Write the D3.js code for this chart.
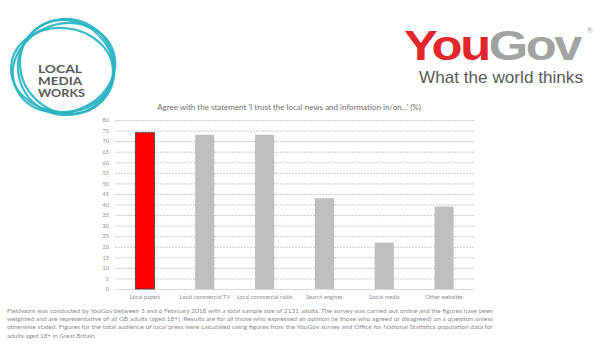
<!DOCTYPE html>
<html><head><meta charset="utf-8">
<script src="https://cdn.jsdelivr.net/npm/d3@7"></script>
<style>body{margin:0;background:#fff;}svg{display:block;font-family:Lato,"Open Sans",sans-serif;}</style>
</head><body><svg id="c" width="600" height="355"></svg>
<script>
const categories = ["Local papers","Local commercial TV","Local commercial radio","Search engines","Social media","Other websites"];
const values = [74, 73, 73, 43, 22, 39];
const yTicks = [0,5,10,15,20,25,30,35,40,45,50,55,60,65,70,75,80];
const title = "Agree with the statement 'I trust the local news and information in/on...'  (%)";
const footnote = [
 "Fieldwork was conducted by YouGov between 5 and 6 February 2018 with a total sample size of 2131 adults. The survey was carried out online and the figures have been",
 "weighted and are representative of all GB adults (aged 18+). Results are for all those who expressed an opinion (ie those who agreed or disagreed) on a question unless",
 "otherwise stated.  Figures for the total audience of local press were calculated using figures from the YouGov survey and Office for National Statistics population data for",
 "adults aged 18+ in Great Britain."
];

const svg = d3.select("#c");
const x = d3.scaleBand().domain(categories).range([115,474]).paddingInner(0.68).paddingOuter(0.34);
const y = d3.scaleLinear().domain([0,80]).range([289,120]);

// gridlines
const gy = svg.append("g").attr("transform","translate(115,0)")
  .call(d3.axisLeft(y).tickValues(yTicks).tickSize(-359).tickPadding(6));
gy.select(".domain").remove();
gy.selectAll(".tick line").attr("stroke","#a6a6a6").attr("stroke-dasharray","2,1").attr("stroke-width",0.6)
  .filter(d=>d===0).attr("stroke","#d9d9d9").attr("stroke-dasharray",null).attr("stroke-width",1);
gy.selectAll(".tick text").attr("fill","#8c8c8c").style("font-size","5.5px").style("font-family","Lato,sans-serif");

// bars
svg.append("g").selectAll("rect").data(categories).join("rect")
  .attr("x",d=>x(d)).attr("width",x.bandwidth())
  .attr("y",(d,i)=>y(values[i])).attr("height",(d,i)=>y(0)-y(values[i]))
  .attr("fill",(d,i)=>i===0?"#ff0000":"#bfbfbf")
  .attr("stroke",(d,i)=>i===0?"#404040":"none").attr("stroke-width",0.8);

// x labels
const gx = svg.append("g").attr("transform","translate(0,289)").call(d3.axisBottom(x).tickSize(0).tickPadding(6));
gx.select(".domain").remove();
gx.selectAll(".tick text").attr("fill","#8c8c8c").style("font-size","5.6px").style("font-family","Lato,sans-serif");

// title
svg.append("text").attr("x",289).attr("y",110).attr("text-anchor","middle")
  .attr("fill","#707070").style("font-size","8px").text(title);

// footnote
svg.append("g").selectAll("text").data(footnote).join("text")
  .attr("x",7).attr("y",(d,i)=>313+i*8.2).attr("fill","#8c8c8c").style("font-size","6.3px")
  .attr("textLength",(d,i)=>i===3?null:486).attr("lengthAdjust","spacingAndGlyphs")
  .text(d=>d);

// Local Media Works logo
const lg = svg.append("g");
const ell = [[64,68,52,44,-20],[66,67,48,48,30],[62,70,51,42,5],[67,67,45,49,-45]];
lg.selectAll("ellipse").data(ell).join("ellipse")
  .attr("cx",d=>d[0]).attr("cy",d=>d[1]).attr("rx",d=>d[2]).attr("ry",d=>d[3])
  .attr("transform",d=>`rotate(${d[4]},${d[0]},${d[1]})`)
  .attr("fill","none").attr("stroke","#27b3c2").attr("stroke-width",2.2).attr("opacity",0.9);
lg.selectAll("text").data(["LOCAL","MEDIA","WORKS"]).join("text")
  .attr("x",38).attr("y",(d,i)=>72.5+i*12).attr("fill","#5a5a5a")
  .style("font-size","11.5px").style("font-weight","bold").style("font-family","Lato,sans-serif")
  .attr("textLength",(d,i)=>i===2?47:44).attr("lengthAdjust","spacingAndGlyphs").text(d=>d);

// YouGov logo
const yg = svg.append("text").attr("x",404).attr("y",60).style("font-family","'Liberation Sans',Arial,sans-serif")
  .style("font-size","42px").style("font-weight","bold").attr("letter-spacing","-2")
  .attr("textLength",176).attr("lengthAdjust","spacingAndGlyphs");
yg.append("tspan").attr("fill","#e3262c").text("You");
yg.append("tspan").attr("fill","#a3a3a3").text("Gov");
svg.append("text").attr("x",590).attr("y",33).attr("fill","#a3a3a3").style("font-size","7px").attr("text-anchor","middle").text("®");
svg.append("text").attr("x",419).attr("y",83).attr("fill","#5a5a5a")
  .style("font-family","'Liberation Sans',Arial,sans-serif").style("font-size","17px")
  .attr("textLength",164).attr("lengthAdjust","spacingAndGlyphs").text("What the world thinks");
</script></body></html>
